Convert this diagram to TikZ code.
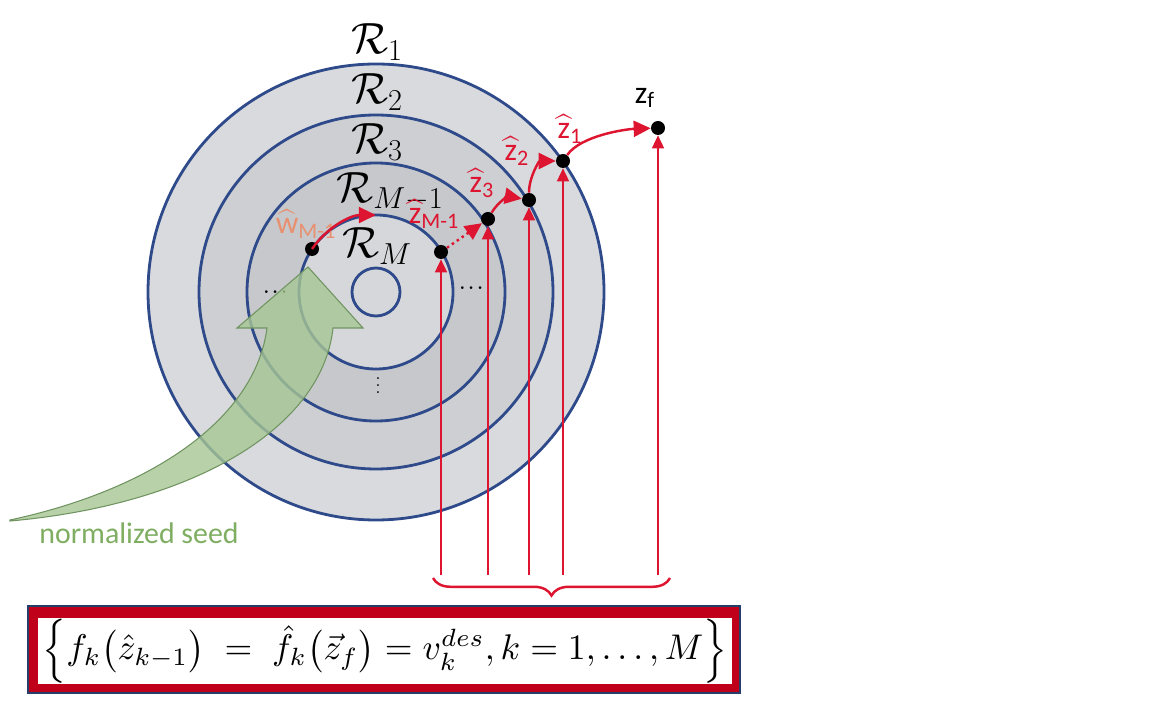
\documentclass[tikz,border=0pt]{standalone}
\usepackage{fontspec}
\usepackage{amsmath}
\usepackage{graphicx}
\usetikzlibrary{arrows.meta}
\usetikzlibrary{decorations.pathreplacing}
\newfontfamily\calibfont{Carlito}
\newcommand\hatted[1]{$\widehat{\text{#1}}$}
\definecolor{ringblue}{HTML}{2E4A8A}
\definecolor{ringA}{HTML}{D8DADD}
\definecolor{ringB}{HTML}{CDCFD2}
\definecolor{ringC}{HTML}{C6C8CB}
\definecolor{ringD}{HTML}{D6D7DA}
\definecolor{zred}{HTML}{DD1530}
\definecolor{boxred}{HTML}{C0001A}
\definecolor{boxnavy}{HTML}{24406A}
\definecolor{seedgreen}{HTML}{A6C694}
\definecolor{seededge}{HTML}{6F9460}
\definecolor{seedtext}{HTML}{7FAE62}
\definecolor{wsalmon}{HTML}{E8906F}

\begin{document}
\begin{tikzpicture}[
            x=.02cm, y=.02cm,
            ring/.style={draw=ringblue, line width=1.6pt},
            pt/.style={circle, fill=black, inner sep=0pt, minimum size=.28cm},
            rlbl/.style={font=\fontsize{24}{28}\selectfont},
            zlbl/.style={font=\calibfont\fontsize{18}{20}\selectfont, text=zred},
            hop/.style={draw=zred, line width=1.4pt, -{Triangle[length=.34cm, width=.32cm]}},
            vec/.style={draw=zred, line width=.9pt, -{Triangle[length=.26cm, width=.24cm]}},
        ]
            \useasboundingbox (0,0) rectangle (1152,720);

            %% nested level sets, largest first
            \coordinate (ctr) at (376,428);
            \foreach \r/\c in {228/ringA, 177/ringB, 129/ringC, 77/ringD}{
                \draw[ring, fill=\c] (ctr) circle[radius=\r];
            }
            \draw[ring] (ctr) circle[radius=24];

            \node[rlbl] (r1) at (377,678) {$\mathcal{R}_1$};
            \node[rlbl] (r2) at (377,628) {$\mathcal{R}_2$};
            \node[rlbl] (r3) at (377,578) {$\mathcal{R}_3$};
            \node[rlbl] (rm1) at (390,528) {$\mathcal{R}_{M-1}$};
            \node[rlbl] (rm) at (377,474) {$\mathcal{R}_M$};

            \node (dl) at (277,428) {$\boldsymbol{\dots}$};
            \node (dr) at (473,432) {$\boldsymbol{\dots}$};
            \node (dd) at (378,340) {$\boldsymbol{\vdots}$};

            %% the seed comes in from outside
            \filldraw[fill=seedgreen, draw=seededge, line width=.6pt, fill opacity=.8]
                (10,200) .. controls (150,230) and (255,300) .. (267,392)
                -- (237,392) -- (308,453) -- (363,392) -- (333,392)
                .. controls (322,290) and (190,215) .. (10,199) -- cycle;
            \node[font=\calibfont\fontsize{17}{20}\selectfont, text=seedtext] (seed) at (139,187) {normalized seed};

            %% points on the level sets
            \node[pt] (w) at (312,471) {};
            \node[pt] (zM1) at (441,468) {};
            \node[pt] (z3) at (488,501) {};
            \node[pt] (z2) at (529,520) {};
            \node[pt] (z1) at (563,559) {};
            \node[pt] (zf) at (658,592) {};

            \node[zlbl, text=wsalmon] (wl) at (306,496) {\hatted{w}\textsubscript{M-1}};
            \node[zlbl] (zM1l) at (434,506) {\hatted{z}\textsubscript{M-1}};
            \node[zlbl] (z3l) at (482,537) {\hatted{z}\textsubscript{3}};
            \node[zlbl] (z2l) at (517,569) {\hatted{z}\textsubscript{2}};
            \node[zlbl] (z1l) at (570,591) {\hatted{z}\textsubscript{1}};
            \node[font=\calibfont\fontsize{18}{20}\selectfont] (zfl) at (645,622) {z\textsubscript{f}};

            \draw[hop] (w) arc[start angle=146, end angle=90, radius=77];
            \draw[hop, dotted] (zM1) -- (z3);
            \draw[hop] (z3) to[out=60, in=170] (z2);
            \draw[hop] (z2) to[out=90, in=180] (z1);
            \draw[hop] (z1) to[out=55, in=182, looseness=.7] (zf);

            %% every point is pinned by one condition below
            \coordinate (base) at (0,145);
            \foreach \p in {zM1, z3, z2, z1, zf}{
                \draw[vec] (\p |- base) -- (\p);
            }
            \draw[zred, line width=1.4pt, decorate, decoration={brace, mirror, amplitude=10pt}]
                (433,142) -- (670,142);

            \draw[fill=boxred, draw=boxnavy, line width=.8pt] (28,27) rectangle (740,114);
            \fill[white] (38,36) rectangle (732,102);
            \node[inner sep=0pt] (eqn) at (385,69) {\resizebox{13.7cm}{!}{$\Bigl\{ f_k\bigl(\hat{z}_{k-1}\bigr) \;=\; \hat{f}_k\bigl(\vec{z}_f\bigr) = v_k^{des}, k=1,\ldots,M \Bigr\}$}};
        \end{tikzpicture}
\end{document}
